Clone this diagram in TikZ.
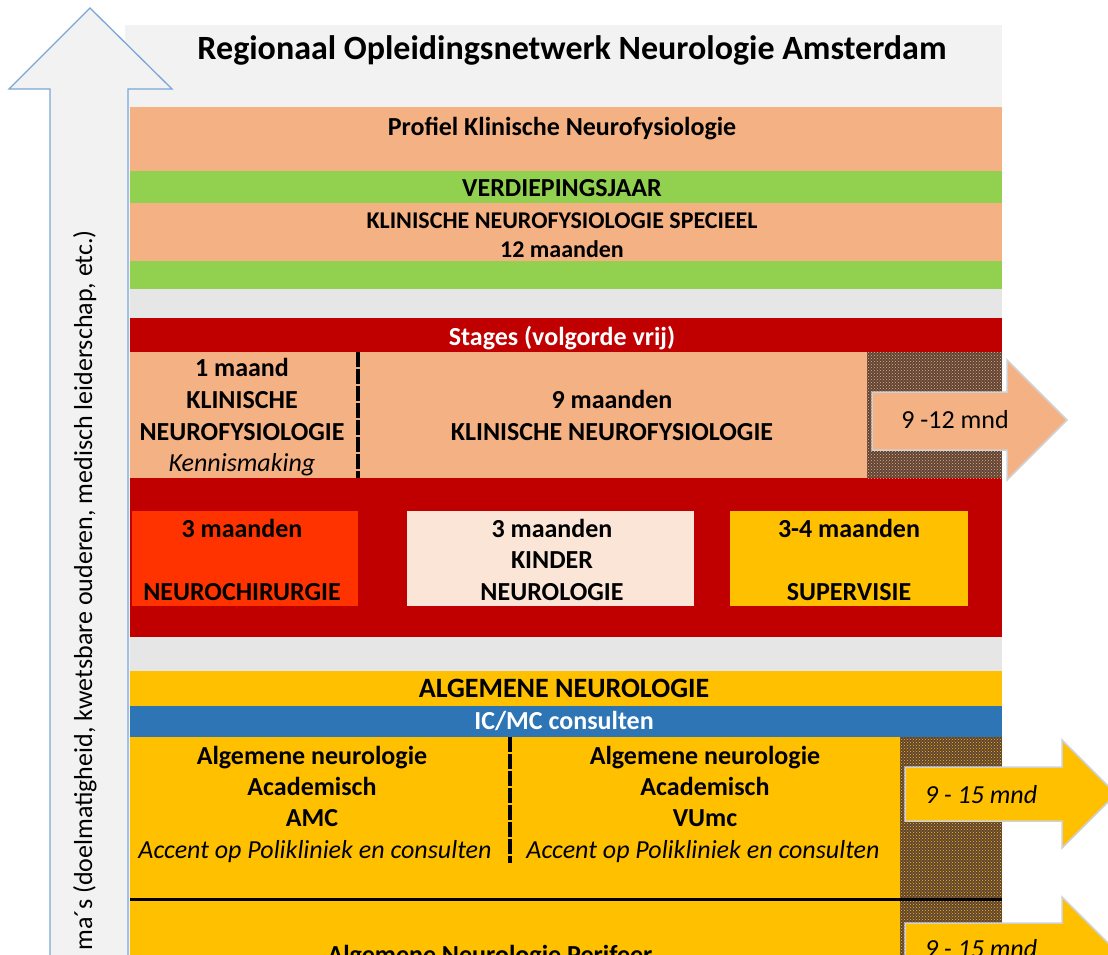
\documentclass[tikz,border=0pt]{standalone}
\usepackage{fontspec}
\setmainfont{Carlito}
\usetikzlibrary{patterns}

\definecolor{paneel}{HTML}{F2F2F2}
\definecolor{tussen}{HTML}{E7E6E6}
\definecolor{zalm}{HTML}{F4B183}
\definecolor{groen}{HTML}{92D050}
\definecolor{rood}{HTML}{C00000}
\definecolor{oranjerood}{HTML}{FF3300}
\definecolor{lichtzalm}{HTML}{FBE5D6}
\definecolor{geel}{HTML}{FFC000}
\definecolor{blauw}{HTML}{2E75B6}
\definecolor{pijlblauw}{HTML}{7AA6D8}
\definecolor{bruin}{HTML}{5E4436}

\tikzset{
  tekst/.style={inner sep=0pt, anchor=base, font=\fontsize{26}{31}\selectfont\bfseries},
  kleintekst/.style={tekst, font=\fontsize{24}{29}\selectfont\bfseries},
  cursief/.style={tekst, font=\fontsize{26}{31}\selectfont\itshape},
  gewoon/.style={tekst, font=\fontsize{26}{31}\selectfont},
  streep/.style={line width=4.5pt, dash pattern=on 15pt off 2pt},
  pijl/.style={draw=black!18, line width=1.5pt},
}

\begin{document}
\begin{tikzpicture}[x=1pt, y=-1pt]
        \useasboundingbox (0,0) rectangle (1108,954);
        \clip (0,0) rectangle (1108,954);
        \fill[white] (0,0) rectangle (1108,954);

        % фон и большая стрелка слева
        \fill[paneel] (125,25) rectangle (1002,960);
        \filldraw[fill=paneel, draw=pijlblauw, line width=1.3pt]
            (50,970) -- (50,89) -- (9,89) -- (90,8) -- (172,89) -- (128,89) -- (128,970);
        \node[gewoon, rotate=90, anchor=base east] (themas) at (92,230)
            {ma´s (doelmatigheid, kwetsbare ouderen, medisch leiderschap, etc.)};

        % заголовок
        \node[tekst, font=\fontsize{34}{40}\selectfont\bfseries] (titel) at (572,59) {Regionaal Opleidingsnetwerk Neurologie Amsterdam};

        % профиль и год углубления
        \fill[zalm] (130,107) rectangle (1002,171);
        \fill[groen] (130,171) rectangle (1002,203);
        \fill[zalm] (130,203) rectangle (1002,261);
        \fill[groen] (130,261) rectangle (1002,289);
        \fill[tussen] (130,289) rectangle (1002,318);
        \node[tekst] (profiel) at (562,135) {Profiel Klinische Neurofysiologie};
        \node[tekst] (verdieping) at (562,196) {VERDIEPINGSJAAR};
        \node[kleintekst] (specieel) at (562,228) {KLINISCHE NEUROFYSIOLOGIE SPECIEEL};
        \node[kleintekst] (twaalf) at (562,257) {12 maanden};

        % стажировки
        \fill[rood] (130,318) rectangle (1002,637);
        \node[tekst, white] (stages) at (562,345) {Stages (volgorde vrij)};
        \fill[zalm] (130,352) rectangle (867,478);
        \fill[bruin] (867,352) rectangle (1002,478);
        \fill[pattern=crosshatch dots, pattern color=zalm] (867,352) rectangle (1002,478);
        \draw[streep] (358,352) -- (358,478);
        \node[tekst] (eenmaand) at (242,376) {1 maand};
        \node[tekst] (klin) at (242,408) {KLINISCHE};
        \node[tekst] (neurofys) at (242,440) {NEUROFYSIOLOGIE};
        \node[cursief] (kennis) at (242,471) {Kennismaking};
        \node[tekst] (negen) at (612,408) {9 maanden};
        \node[tekst] (klinneuro) at (612,440) {KLINISCHE NEUROFYSIOLOGIE};
        \filldraw[fill=zalm, pijl] (872,392) -- (1007,392) -- (1007,360) -- (1067,420)
            -- (1007,480) -- (1007,450) -- (872,450) -- cycle;
        \node[gewoon] (mnd1) at (955,428) {9 -12 mnd};

        % три блока по 3 месяца
        \fill[oranjerood] (132,511) rectangle (358,606);
        \fill[lichtzalm] (407,511) rectangle (694,606);
        \fill[geel] (730,511) rectangle (968,606);
        \node[tekst] (chir3) at (242,537) {3 maanden};
        \node[tekst] (chir) at (242,600) {NEUROCHIRURGIE};
        \node[tekst] (kind3) at (552,537) {3 maanden};
        \node[tekst] (kind) at (552,568) {KINDER};
        \node[tekst] (kindneuro) at (552,600) {NEUROLOGIE};
        \node[tekst] (super34) at (849,537) {3-4 maanden};
        \node[tekst] (super) at (849,600) {SUPERVISIE};
        \fill[tussen] (130,637) rectangle (1002,671);

        % общая неврология
        \fill[geel] (130,671) rectangle (1002,706);
        \fill[blauw] (130,706) rectangle (1002,737);
        \fill[geel] (130,737) rectangle (900,960);
        \fill[bruin] (900,737) rectangle (1002,960);
        \fill[pattern=crosshatch dots, pattern color=geel] (900,737) rectangle (1002,960);
        \node[tekst, font=\fontsize{28}{34}\selectfont\bfseries] (algemeen) at (564,697) {ALGEMENE NEUROLOGIE};
        \node[tekst, white] (icmc) at (564,729) {IC/MC consulten};
        \draw[streep] (510,737) -- (510,863);
        \node[tekst] (alg1) at (312,764) {Algemene neurologie};
        \node[tekst] (acad1) at (312,795) {Academisch};
        \node[tekst] (amc) at (312,826) {AMC};
        \node[cursief] (accent1) at (315,858) {Accent op Polikliniek en consulten};
        \node[tekst] (alg2) at (705,764) {Algemene neurologie};
        \node[tekst] (acad2) at (705,795) {Academisch};
        \node[tekst] (vumc) at (705,826) {VUmc};
        \node[cursief] (accent2) at (703,858) {Accent op Polikliniek en consulten};
        \draw[line width=3pt] (130,899) -- (1002,899);
        \node[tekst] (perifeer) at (490,963) {Algemene Neurologie Perifeer};

        % стрелки справа
        \filldraw[fill=geel, pijl] (905,767) -- (1062,767) -- (1062,740) -- (1116,794)
            -- (1062,848) -- (1062,821) -- (905,821) -- cycle;
        \node[cursief] (mnd2) at (981,803) {9 - 15 mnd};
        \filldraw[fill=geel, pijl] (905,923) -- (1062,923) -- (1062,897) -- (1116,951)
            -- (1062,1005) -- (1062,977) -- (905,977) -- cycle;
        \node[cursief] (mnd3) at (981,957) {9 - 15 mnd};
\end{tikzpicture}
\end{document}
